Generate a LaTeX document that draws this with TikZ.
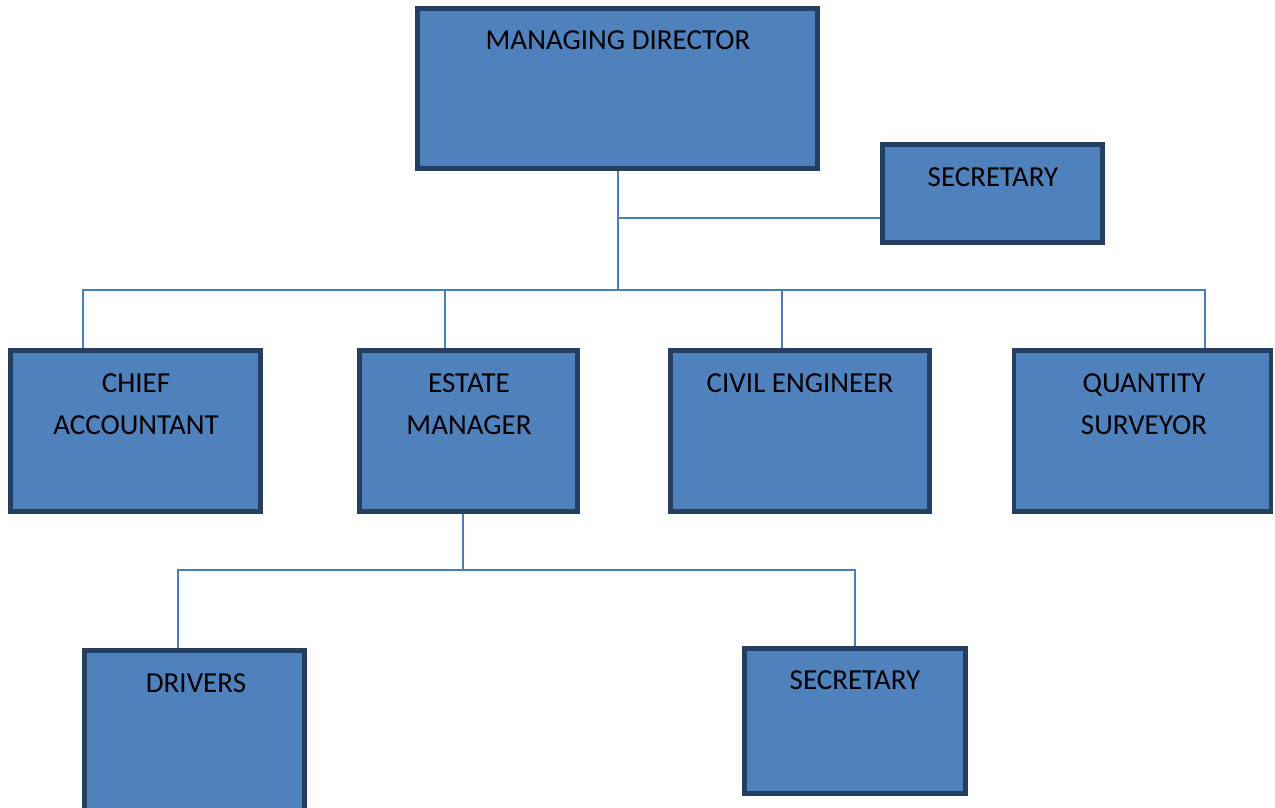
\documentclass[tikz,border=0pt]{standalone}
\usepackage{fontspec}
\setmainfont{Carlito}
\usetikzlibrary{backgrounds}
\definecolor{boxfill}{HTML}{4F81BD}
\definecolor{boxline}{HTML}{243F60}
\definecolor{connline}{HTML}{4A7EBB}
\tikzset{
  orgbox/.style={draw=boxline, fill=boxfill, line width=4.5pt, inner sep=0pt, rectangle},
  lab/.style={inner sep=0pt, align=center, anchor=north, text=black, font=\fontsize{29}{42}\selectfont},
  conn/.style={draw=connline, line width=2pt}
}
\begin{document}
\begin{tikzpicture}[x=1pt,y=-1pt]
\useasboundingbox (0,0) rectangle (1275,807);
\clip (0,0) rectangle (1275,807);
% boxes
\node[orgbox, minimum width=400pt, minimum height=160pt] (md) at (617.5,88.5) {};
\node[orgbox, minimum width=220pt, minimum height=98pt] (sec1) at (992.5,193.5) {};
\node[orgbox, minimum width=250pt, minimum height=161pt] (ca) at (135.5,431) {};
\node[orgbox, minimum width=218pt, minimum height=161pt] (em) at (468.5,431) {};
\node[orgbox, minimum width=259pt, minimum height=161pt] (ce) at (800,431) {};
\node[orgbox, minimum width=257pt, minimum height=161pt] (qs) at (1142.5,431) {};
\node[orgbox, minimum width=220pt, minimum height=170pt] (dr) at (194.5,735.5) {};
\node[orgbox, minimum width=221pt, minimum height=145pt] (sec2) at (855,721) {};
% labels
\node[lab] (mdt) at (618,30) {MANAGING DIRECTOR};
\node[lab] (sec1t) at (993,167) {SECRETARY};
\node[lab] (cat) at (136,373) {CHIEF\\ACCOUNTANT};
\node[lab] (emt) at (469,373) {ESTATE\\MANAGER};
\node[lab] (cet) at (800,373) {CIVIL ENGINEER};
\node[lab] (qst) at (1144,373) {QUANTITY\\SURVEYOR};
\node[lab] (drt) at (196,673) {DRIVERS};
\node[lab] (sec2t) at (855,670) {SECRETARY};
% connectors
\coordinate (j) at (617.5,290);
\coordinate (k) at (463,570);
\begin{scope}[on background layer]
\draw[conn] (md.south) -- (j);
\draw[conn] ([yshift=-24.5pt]sec1.west) -- ([yshift=-24.5pt]sec1.west -| md.south);
\draw[conn] ([xshift=-52.5pt]ca.north) |- (j);
\draw[conn] ([xshift=-23.5pt]em.north) |- (j);
\draw[conn] ([xshift=-18pt]ce.north) |- (j);
\draw[conn] ([xshift=62.5pt]qs.north) |- (j);
\draw[conn] ([xshift=-5.5pt]em.south) -- (k);
\draw[conn] ([xshift=-16.5pt]dr.north) |- (k);
\draw[conn] (sec2.north) |- (k);
\end{scope}
\end{tikzpicture}
\end{document}
